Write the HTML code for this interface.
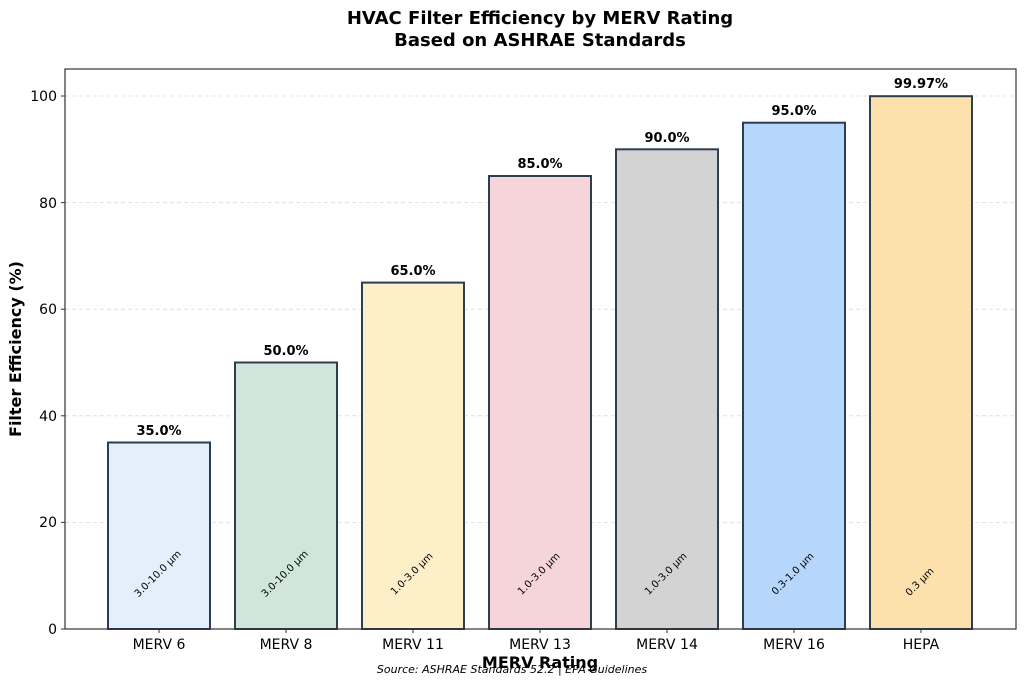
<!DOCTYPE html>
<html><head><meta charset="utf-8"><style>body{margin:0;background:#fff}svg{display:block}text{font-family:"DejaVu Sans","Liberation Sans",sans-serif}</style></head>
<body>
<svg width="1024" height="685" viewBox="0 0 1024 685" xmlns="http://www.w3.org/2000/svg">
<rect width="1024" height="685" fill="#fff"/>
<text x="540" y="24" text-anchor="middle" font-size="18" font-weight="bold">HVAC Filter Efficiency by MERV Rating</text>
<text x="540" y="46" text-anchor="middle" font-size="18" font-weight="bold">Based on ASHRAE Standards</text>
<g stroke="#ccc" stroke-dasharray="4,3" stroke-width="0.8" opacity="0.7">
<line x1="65" x2="1016" y1="522.4" y2="522.4"/><line x1="65" x2="1016" y1="415.8" y2="415.8"/><line x1="65" x2="1016" y1="309.2" y2="309.2"/><line x1="65" x2="1016" y1="202.6" y2="202.6"/><line x1="65" x2="1016" y1="96" y2="96"/>
</g>
<g stroke="#2c3e50" stroke-width="2">
<rect x="108" y="442.5" width="102" height="186.5" fill="#e3f0fb"/>
<rect x="235" y="362.5" width="102" height="266.5" fill="#d0e6dd"/>
<rect x="362" y="282.6" width="102" height="346.4" fill="#fdf0c9"/>
<rect x="489" y="176" width="102" height="453" fill="#f5d5d9"/>
<rect x="616" y="149.3" width="102" height="479.7" fill="#d3d3d3"/>
<rect x="743" y="122.7" width="102" height="506.3" fill="#b6d6fb"/>
<rect x="870" y="96.2" width="102" height="532.8" fill="#fde1ad"/>
</g>
<g font-size="13" font-weight="bold" text-anchor="middle">
<text x="159" y="435">35.0%</text><text x="286" y="355">50.0%</text><text x="413" y="275">65.0%</text><text x="540" y="168">85.0%</text><text x="667" y="142">90.0%</text><text x="794" y="115">95.0%</text><text x="921" y="88">99.97%</text>
</g>
<g font-size="10" text-anchor="middle">
<text transform="translate(160,576) rotate(-45)">3.0-10.0 µm</text>
<text transform="translate(287,576) rotate(-45)">3.0-10.0 µm</text>
<text transform="translate(414,576) rotate(-45)">1.0-3.0 µm</text>
<text transform="translate(541,576) rotate(-45)">1.0-3.0 µm</text>
<text transform="translate(668,576) rotate(-45)">1.0-3.0 µm</text>
<text transform="translate(795,576) rotate(-45)">0.3-1.0 µm</text>
<text transform="translate(922,584) rotate(-45)">0.3 µm</text>
</g>
<rect x="65" y="69" width="951" height="560" fill="none" stroke="#333" stroke-width="1.2"/>
<g stroke="#333"><line x1="61" x2="65" y1="629" y2="629"/><line x1="61" x2="65" y1="522.4" y2="522.4"/><line x1="61" x2="65" y1="415.8" y2="415.8"/><line x1="61" x2="65" y1="309.2" y2="309.2"/><line x1="61" x2="65" y1="202.6" y2="202.6"/><line x1="61" x2="65" y1="96" y2="96"/>
<line x1="159" x2="159" y1="629" y2="633"/><line x1="286" x2="286" y1="629" y2="633"/><line x1="413" x2="413" y1="629" y2="633"/><line x1="540" x2="540" y1="629" y2="633"/><line x1="667" x2="667" y1="629" y2="633"/><line x1="794" x2="794" y1="629" y2="633"/><line x1="921" x2="921" y1="629" y2="633"/></g>
<g font-size="14" text-anchor="end">
<text x="57" y="634">0</text><text x="57" y="527">20</text><text x="57" y="421">40</text><text x="57" y="314">60</text><text x="57" y="208">80</text><text x="57" y="101">100</text>
</g>
<g font-size="14" text-anchor="middle">
<text x="159" y="649">MERV 6</text><text x="286" y="649">MERV 8</text><text x="413" y="649">MERV 11</text><text x="540" y="649">MERV 13</text><text x="667" y="649">MERV 14</text><text x="794" y="649">MERV 16</text><text x="921" y="649">HEPA</text>
</g>
<text x="540" y="668" text-anchor="middle" font-size="16" font-weight="bold">MERV Rating</text>
<text transform="translate(21,349) rotate(-90)" text-anchor="middle" font-size="16" font-weight="bold">Filter Efficiency (%)</text>
<text x="512" y="673" text-anchor="middle" font-size="11" font-style="italic">Source: ASHRAE Standards 52.2 | EPA Guidelines</text>
</svg>
</body></html>
